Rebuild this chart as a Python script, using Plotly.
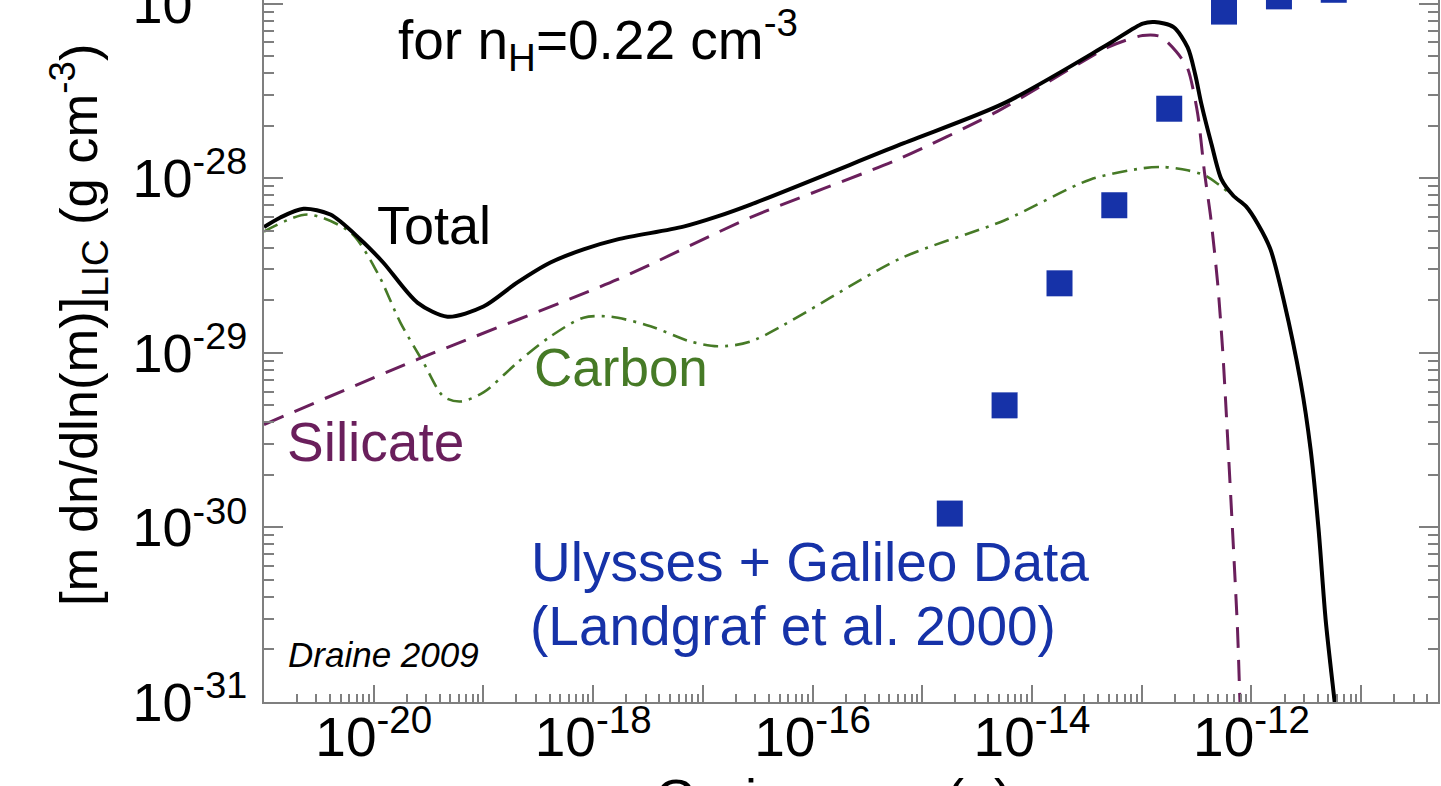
import plotly.graph_objects as go

# ---------------- data ----------------
total_mass = [1.0e-21, 1.41e-21, 2.29e-21, 4.03e-21, 7.57e-21, 1.22e-20, 2.50e-20, 4.70e-20,
              1.0e-19, 2.04e-19, 4.08e-19, 8.17e-19, 1.67e-18, 6.65e-18, 1.36e-17, 2.72e-17,
              6.32e-16, 5.58e-15, 4.88e-14, 1.02e-13, 1.31e-13, 1.95e-13, 2.62e-13, 3.07e-13,
              3.48e-13, 4.33e-13, 5.33e-13, 6.81e-13, 8.93e-13, 1.15e-12, 1.49e-12, 1.96e-12,
              2.81e-12, 3.46e-12, 4.09e-12, 4.74e-12, 5.73e-12, 6.49e-12]
total_val = [5.25e-29, 5.96e-29, 6.68e-29, 6.19e-29, 4.46e-29, 3.29e-29, 1.94e-29, 1.61e-29,
             1.84e-29, 2.53e-29, 3.29e-29, 3.91e-29, 4.46e-29, 5.28e-29, 6.04e-29, 7.06e-29,
             1.56e-28, 2.69e-28, 5.83e-28, 7.69e-28, 7.85e-28, 7.33e-28, 5.61e-28, 3.93e-28,
             2.69e-28, 1.56e-28, 9.84e-29, 7.96e-29, 6.89e-29, 5.43e-29, 3.91e-29, 2.02e-29,
             6.76e-30, 2.79e-30, 9.72e-31, 2.97e-31, 1.0e-31, 5.0e-32]

silicate_mass = [1.0e-21, 2.50e-20, 1.67e-18, 2.72e-17, 6.32e-16, 4.46e-15, 4.88e-14, 7.06e-14,
                 1.02e-13, 1.47e-13, 2.06e-13, 2.62e-13, 3.23e-13, 3.73e-13, 4.24e-13, 4.91e-13,
                 5.46e-13, 6.05e-13, 7.46e-13, 7.80e-13, 8.2e-13]
silicate_val = [3.88e-30, 9.16e-30, 2.63e-29, 5.96e-29, 1.30e-28, 2.35e-28, 5.61e-28, 6.15e-28,
                6.56e-28, 6.49e-28, 5.32e-28, 4.25e-28, 2.35e-28, 1.08e-28, 6.04e-29, 2.53e-29,
                1.04e-29, 3.32e-30, 2.60e-31, 1.13e-31, 4.5e-32]

carbon_mass = [1.0e-21, 2.49e-21, 6.14e-21, 1.08e-20, 1.75e-20, 2.84e-20, 4.32e-20, 6.17e-20,
               1.0e-19, 2.04e-19, 4.08e-19, 8.17e-19, 1.44e-18, 3.33e-18, 7.71e-18, 1.36e-17,
               2.72e-17, 6.32e-16, 5.58e-15, 3.41e-14, 1.02e-13, 1.57e-13, 2.62e-13, 3.73e-13,
               5.01e-13, 6.81e-13, 8.93e-13, 1.15e-12, 1.49e-12, 1.96e-12, 2.81e-12, 3.46e-12,
               4.09e-12, 4.74e-12, 5.73e-12, 6.49e-12]
carbon_val = [4.95e-29, 6.19e-29, 4.89e-29, 2.88e-29, 1.49e-29, 8.79e-30, 5.62e-30, 5.26e-30,
              5.93e-30, 8.79e-30, 1.24e-29, 1.59e-29, 1.61e-29, 1.42e-29, 1.16e-29, 1.09e-29,
              1.16e-29, 3.47e-29, 5.73e-29, 9.84e-29, 1.14e-28, 1.16e-28, 1.11e-28, 1.04e-28,
              9.20e-29, 7.90e-29, 6.85e-29, 5.40e-29, 3.89e-29, 2.01e-29, 6.73e-30, 2.78e-30,
              9.68e-31, 2.96e-31, 9.9e-32, 5.0e-32]

data_mass = [1.78e-15, 5.62e-15, 1.78e-14, 5.62e-14, 1.78e-13, 5.62e-13, 1.78e-12, 5.62e-12]
data_val = [1.2e-30, 5.0e-30, 2.5e-29, 7.0e-29, 2.5e-28, 9.0e-28, 1.1e-27, 1.2e-27]

x_decades = list(range(-21, -10))
y_decades = list(range(-31, -26))
x_ticktext = ["10<sup>%d</sup>" % d if d % 2 == 0 else "" for d in x_decades]
y_ticktext = ["10<sup>%d</sup>" % d for d in y_decades]

# ---------------- styling ----------------
W, H = 1441, 786
ML, MR, MT, MB = 264, 3, 0, 84
FONT = "Liberation Sans, Arial, Helvetica, sans-serif"
AXC = "#7f7f7f"
BLACK = "#000000"
PURPLE = "#6a1f5c"
GREEN = "#467a26"
BLUE = "#1632a8"

def minor_vals(decs):
    return [m * 10.0 ** d for d in decs for m in range(2, 10)]

fig = go.Figure()
fig.add_trace(go.Scatter(x=carbon_mass, y=carbon_val, mode="lines",
                         line=dict(color=GREEN, width=2.6, dash="15px,7px,3px,7px",
                                   shape="spline", smoothing=0.8),
                         showlegend=False, hoverinfo="skip"))
fig.add_trace(go.Scatter(x=silicate_mass, y=silicate_val, mode="lines",
                         line=dict(color=PURPLE, width=3, dash="21px,12px",
                                   shape="spline", smoothing=0.7),
                         showlegend=False, hoverinfo="skip"))
fig.add_trace(go.Scatter(x=total_mass, y=total_val, mode="lines",
                         line=dict(color=BLACK, width=4, shape="spline", smoothing=0.8),
                         showlegend=False, hoverinfo="skip"))
fig.add_trace(go.Scatter(x=data_mass, y=data_val, mode="markers",
                         marker=dict(symbol="square", size=26, color=BLUE,
                                     line=dict(width=0)),
                         showlegend=False, hoverinfo="skip"))

fig.update_xaxes(type="log", range=[-21, -10.3], automargin=False,
                 showline=True, linecolor=AXC, linewidth=2, mirror=False,
                 showgrid=False, zeroline=False,
                 tickmode="array", tickvals=[10.0 ** d for d in x_decades], ticktext=x_ticktext,
                 ticks="inside", ticklen=17, tickwidth=2, tickcolor=AXC,
                 minor=dict(tickmode="array", tickvals=minor_vals(range(-21, -10)),
                            ticks="inside", ticklen=8, tickwidth=2, tickcolor=AXC),
                 ticklabelstandoff=-14, ticklabeloverflow="allow",
                 tickfont=dict(family=FONT, size=55, color=BLACK))
fig.update_yaxes(type="log", range=[-31, -31 + (H - MB - MT) / 174.6], automargin=False,
                 showline=True, linecolor=AXC, linewidth=2, mirror="ticks",
                 showgrid=False, zeroline=False,
                 tickmode="array", tickvals=[10.0 ** d for d in y_decades], ticktext=y_ticktext,
                 ticks="inside", ticklen=19, tickwidth=2, tickcolor=AXC,
                 minor=dict(tickmode="array", tickvals=minor_vals(range(-31, -26)),
                            ticks="inside", ticklen=10, tickwidth=2, tickcolor=AXC),
                 ticklabelstandoff=4, ticklabeloverflow="allow",
                 tickfont=dict(family=FONT, size=54, color=BLACK))

PW, PH = W - ML - MR, H - MT - MB

def px(xp):
    return (xp - ML) / PW

def py(yp):
    return (H - MB - yp) / PH

annots = [
    dict(text="for n<sub>H</sub>=0.22 cm<sup>-3</sup>", x=px(396), y=py(40), size=55, color=BLACK),
    dict(text="Total", x=px(375), y=py(225), size=54, color=BLACK),
    dict(text="Carbon", x=px(532), y=py(367), size=53, color=GREEN),
    dict(text="Silicate", x=px(285), y=py(442), size=55, color=PURPLE),
    dict(text="Ulysses + Galileo Data", x=px(529), y=py(562), size=55, color=BLUE),
    dict(text="(Landgraf et al. 2000)", x=px(528), y=py(626), size=55, color=BLUE),
    dict(text="<i>Draine 2009</i>", x=px(286), y=py(654), size=35, color=BLACK),
]
for a in annots:
    fig.add_annotation(text=a["text"], x=a["x"], y=a["y"], xref="paper", yref="paper",
                       xanchor="left", yanchor="middle", showarrow=False,
                       font=dict(family=FONT, size=a["size"], color=a["color"]))

# axis titles (partly outside the photographed area, as in the reference)
fig.add_annotation(text="[m dn/dln(m)]<sub>LIC</sub> (g cm<sup>-3</sup>)", textangle=-90,
                   x=px(79), y=py(325), xref="paper", yref="paper",
                   xanchor="center", yanchor="middle", showarrow=False,
                   font=dict(family=FONT, size=52.5, color=BLACK))
fig.add_annotation(text="Grain mass (g)", x=px(833), y=py(766), xref="paper", yref="paper",
                   xanchor="center", yanchor="top", showarrow=False,
                   font=dict(family=FONT, size=54, color=BLACK))

fig.update_layout(width=W, height=H, margin=dict(l=ML, r=MR, t=MT, b=MB, autoexpand=False),
                  paper_bgcolor="white", plot_bgcolor="white",
                  font=dict(family=FONT, color=BLACK))

fig.write_html("out.html", config={"displayModeBar": False},
               post_script="document.body.style.margin='0px';")
